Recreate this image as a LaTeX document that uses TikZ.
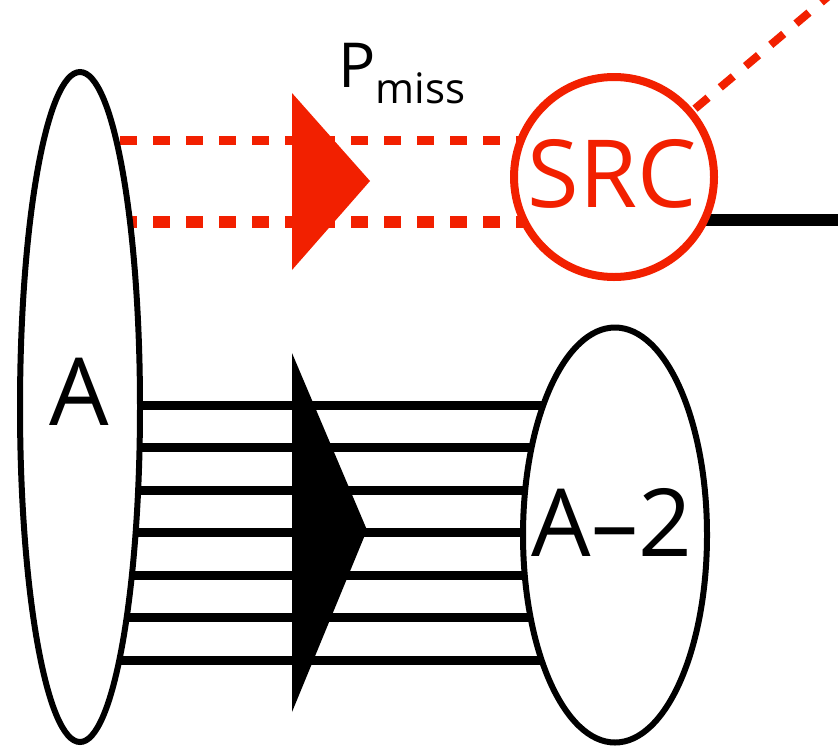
\documentclass[tikz,border=0pt]{standalone}
\usepackage{fontspec}
\setmainfont{Open Sans}
\usetikzlibrary{shapes.geometric,backgrounds}
\definecolor{srcred}{RGB}{242,32,0}
\begin{document}
\begin{tikzpicture}[x=0.5pt,y=-0.5pt,
  nucleus/.style={draw, ellipse, fill=white, line width=3pt, inner sep=0pt},
  bigtext/.style={font=\fontsize{47}{47}\selectfont, inner sep=0pt},
  pairline/.style={line width=4.5pt},
  redline/.style={draw=srcred, dash pattern=on 8.5pt off 8pt, dash phase=13pt}]
\useasboundingbox (0,0) rectangle (838,750);
\node[nucleus, minimum width=60pt, minimum height=335pt] (A) at (80,407) {};
\node[nucleus, minimum width=92pt, minimum height=207.5pt] (A2) at (615,535) {};
\node[circle, draw=srcred, fill=white, line width=4pt, minimum size=100pt, inner sep=0pt] (src) at (614,177) {};
\node[bigtext] (Alab) at (79,392) {A};
\node[bigtext] (A2lab) at (612,522) {A--2};
\node[bigtext, text=srcred] (srclab) at (612,174) {SRC};
\node[anchor=base west, inner sep=0pt] (pmiss) at (338,87) {\fontsize{31}{31}\selectfont P\raisebox{-8pt}{\fontsize{21}{21}\selectfont miss}};
\coordinate (recoil) at (838,220);
\coordinate (knock) at (850,-22);
\begin{pgfonlayer}{background}
% pair going out
\draw[redline, line width=4.5pt] (A.center |- 0,140) -- (src.center |- 0,140);
\draw[redline, line width=6pt] (A.center |- 0,222) -- (src.center |- 0,222);
\draw[redline, line width=4pt] (src.center) -- (knock);
\draw[line width=6pt] (src.center |- recoil) -- (recoil);
% the rest
\foreach \y in {405,447.5,...,660}
  \draw[pairline] (A.center |- 0,\y) -- (A2.center |- 0,\y);
\end{pgfonlayer}
\fill[srcred] (292,93) -- (370,181) -- (292,270) -- cycle;
\fill (292,353) -- (367,530) -- (292,712) -- cycle;
\end{tikzpicture}
\end{document}
